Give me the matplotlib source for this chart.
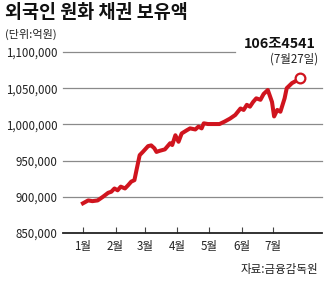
import matplotlib
matplotlib.use("Agg")
import matplotlib.pyplot as plt

plt.rcParams['font.family'] = ['Noto Sans CJK KR', 'DejaVu Sans']

# data: day of year (0 = Jan 1) and holdings (억원)
days = [0, 5, 9, 14, 19, 24, 27, 30, 33, 36, 40, 43, 46, 49, 51, 54, 57, 62, 65, 68,
        70, 73, 78, 83, 85, 88, 91, 94, 99, 102, 107, 110, 113, 115, 119, 130, 135, 140,
        145, 150, 153, 156, 159, 162, 165, 169, 172, 176, 180, 182, 185, 188, 192, 194,
        199, 204, 207]
values = [891000, 895000, 894000, 895000, 900000, 905500, 907000, 911500, 909000, 914000,
          911500, 916000, 921000, 923000, 937000, 957500, 962000, 970000, 971000, 967000,
          962000, 963500, 965500, 974000, 971500, 985000, 976000, 987500, 992000, 994500,
          993000, 997000, 994500, 1001500, 1000500, 1000500, 1004000, 1008000, 1013000,
          1022000, 1020000, 1027000, 1024500, 1031000, 1036000, 1034000, 1042000, 1047500,
          1031000, 1011000, 1020000, 1017500, 1036000, 1050000, 1057000, 1061000, 1064541]
month_days = [0, 31, 59, 90, 120, 151, 181]
month_labels = ['1월', '2월', '3월', '4월', '5월', '6월', '7월']
yticks = [850000, 900000, 950000, 1000000, 1050000, 1100000]
ytick_labels = ['850,000', '900,000', '950,000', '1,000,000', '1,050,000', '1,100,000']

red = '#d0141e'
W, H = 326, 289
fig = plt.figure(figsize=(W / 100, H / 100), dpi=100)
ax = fig.add_axes([63 / W, 1 - 233 / H, (322 - 63) / W, (233 - 52) / H])
ax.set_xlim(-19, 227.6)
ax.set_ylim(850000, 1100000)

for sp in ['top', 'right', 'left']:
    ax.spines[sp].set_visible(False)
ax.spines['bottom'].set_linewidth(1.3)
ax.spines['bottom'].set_color('#222222')

# gridlines
for yv in yticks[1:]:
    xmax = 144.8 if yv == 1100000 else 227.6
    ax.plot([-19, xmax], [yv, yv], color='#8a8a8a', lw=0.9, clip_on=False, zorder=1)

ax.set_yticks(yticks)
ax.set_yticklabels(ytick_labels, fontsize=8.3, color='#222222')
ax.tick_params(axis='y', length=0, pad=4)

ax.set_xticks(month_days)
ax.set_xticklabels(month_labels, fontsize=8.3, color='#222222')
ax.tick_params(axis='x', direction='in', length=4, width=0.8, pad=5, color='#444444')

ax.plot(days, values, color=red, lw=2.9, solid_joinstyle='round', zorder=3, clip_on=False)
ax.plot(days[-1], values[-1], 'o', ms=7, mfc='white', mec=red, mew=1.6, zorder=4, clip_on=False)

fig.text(5 / W, 1 - 12 / H, '외국인 원화 채권 보유액', fontsize=13.3, fontweight='bold',
         va='center', ha='left', color='#111111')
fig.text(5 / W, 1 - 34 / H, '(단위:억원)', fontsize=8, va='center', ha='left', color='#222222')
fig.text(316 / W, 1 - 44 / H, '106조4541', fontsize=10.3, fontweight='bold',
         va='center', ha='right', color='#111111')
fig.text(318 / W, 1 - 59 / H, '(7월27일)', fontsize=8.3, va='center', ha='right', color='#222222')
fig.text(318 / W, 1 - 270 / H, '자료:금융감독원', fontsize=8.3, va='center', ha='right', color='#222222')

fig.savefig('out.png', dpi=100)
